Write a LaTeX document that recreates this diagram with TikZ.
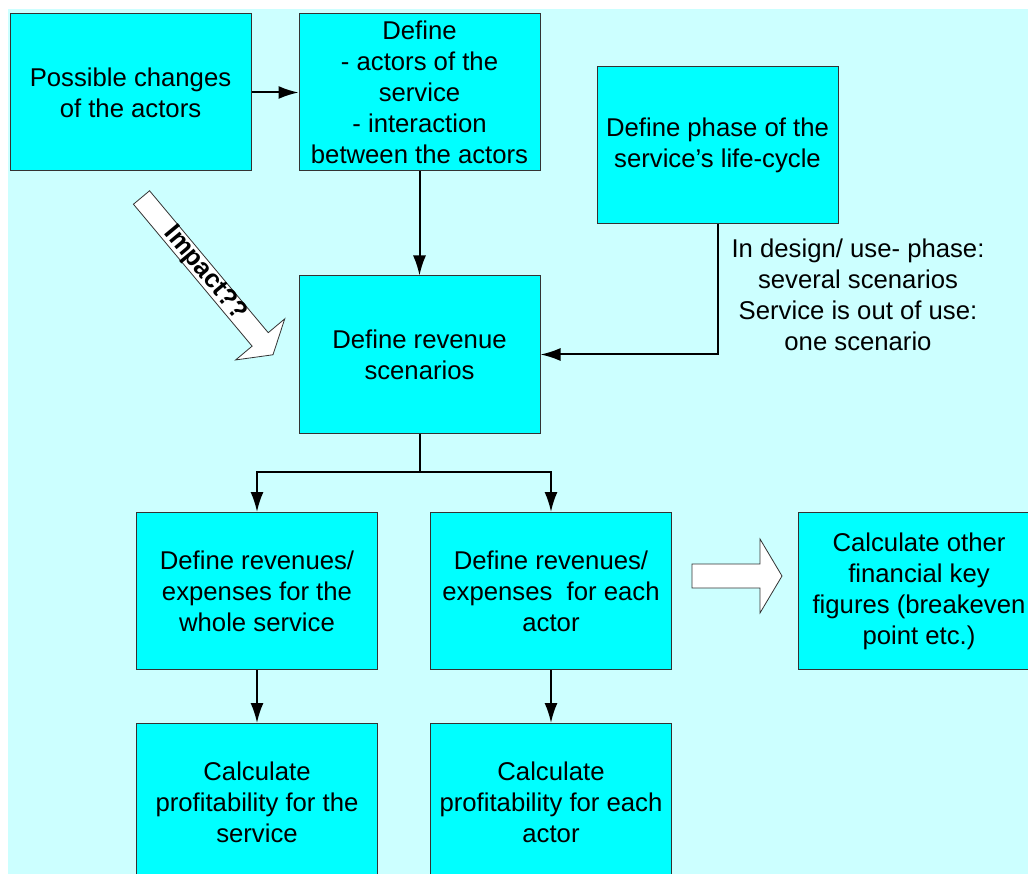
\documentclass[tikz,border=0pt]{standalone}
\usepackage{fontspec}
\setmainfont{Liberation Sans}
\usetikzlibrary{positioning, arrows.meta}
\definecolor{paleaqua}{HTML}{CCFFFF}
\definecolor{boxaqua}{HTML}{00FFFF}

\begin{document}
\begin{tikzpicture}[x=1pt, y=-1pt,
					every node/.style={font=\fontsize{25.7}{31}\selectfont, align=center},
					stage/.style={draw=black!80, line width=1pt, fill=boxaqua,
						minimum width=241pt, minimum height=157pt, inner sep=0pt},
					flow/.style={line width=2pt, -{Latex[length=20pt,width=13pt]}},
					hollow/.style={draw=black!80, line width=0.8pt, fill=white}]
				\useasboundingbox (0,0) rectangle (1028,874);
				\clip (0,0) rectangle (1028,874);
				\fill[paleaqua] (8,9) rectangle (1040,890);

				\node[stage] (changes) at (130.5,92.5) {Possible changes\\of the actors};
				\node[stage, right =47pt of changes] (actors) {Define\\- actors of the\\service\\- interaction\\between the actors};
				\node[stage] (phase) at (717.5,145.5) {Define phase of the\\service's life-cycle};
				\node[stage, below =104pt of actors] (scen) {Define revenue\\scenarios};

				\node[stage] (whole) at (257,591) {Define revenues/\\expenses for the\\whole service};
				\node[stage, right =52pt of whole] (each) {Define revenues/\\expenses~ for each\\actor};
				\node[stage, right =126pt of each] (other) {Calculate other\\financial key\\figures (breakeven\\point etc.)};
				\node[stage, below =53pt of whole] (profw) {Calculate\\profitability for the\\service};
				\node[stage, below =53pt of each] (profe) {Calculate\\profitability for each\\actor};

				\node (note) at (858,295) {In design/ use- phase:\\several scenarios\\Service is out of use:\\one scenario};

				\foreach \from/\to in {changes/actors, actors/scen, whole/profw, each/profe}
					\draw[flow] (\from) -- (\to);
				\draw[flow] (phase.south) |- (scen.east);
				\draw[line width=2pt] (scen.south) -- ++(0,38) coordinate (split);
				\draw[flow] (split) -| (whole.north);
				\draw[flow] (split) -| (each.north);

				% hollow arrows
				\begin{scope}[shift={(141.5,197.5)}, rotate=-50.1]
					\draw[hollow] (0,-10.5) -- (185,-10.5) -- (185,-32) -- (205,0) -- (185,32) -- (185,10.5) -- (0,10.5) -- cycle;
					\node[font=\fontsize{25.7}{31}\selectfont\bfseries, rotate=-50.1] (impact) at (99,0) {Impact??};
				\end{scope}
				\draw[hollow] (692,564) -- (760,564) -- (760,539) -- (782,576) -- (760,613) -- (760,588) -- (692,588) -- cycle;
			\end{tikzpicture}
\end{document}
